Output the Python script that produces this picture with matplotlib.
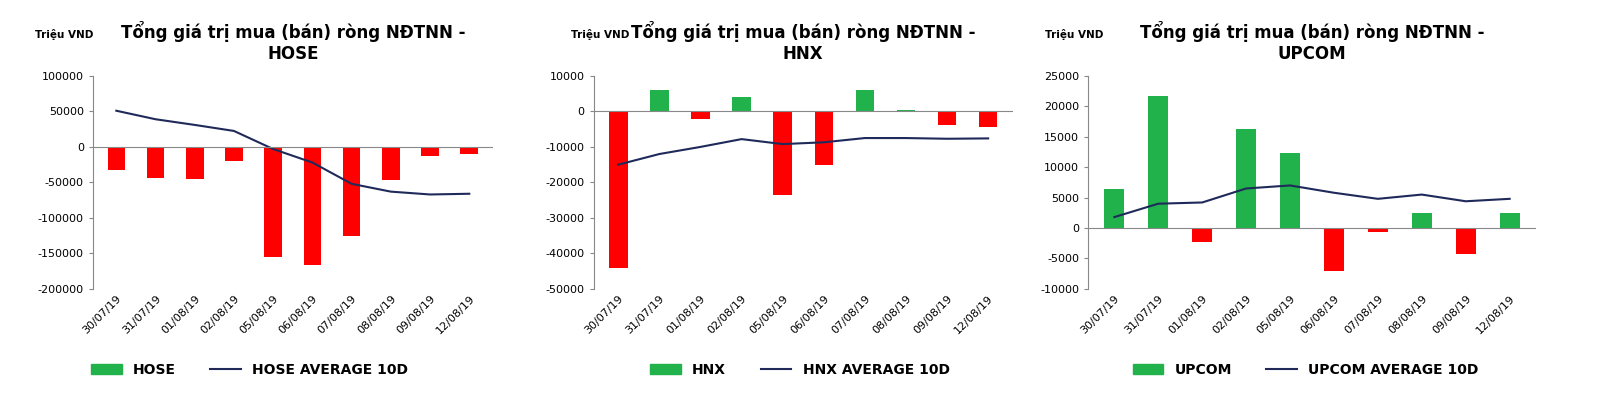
import matplotlib
matplotlib.use("Agg")
import matplotlib.pyplot as plt
import matplotlib.patches as mp
from matplotlib.lines import Line2D
from matplotlib.ticker import FixedLocator

dates = ["30/07/19","31/07/19","01/08/19","02/08/19","05/08/19","06/08/19","07/08/19","08/08/19","09/08/19","12/08/19"]
hose = [-32000,-44000,-45000,-20000,-155000,-166000,-125000,-46000,-13000,-10000]
hose_avg = [51000,39000,31000,22500,-3000,-22000,-52000,-63000,-67000,-66000]
hnx = [-44000,6000,-2000,4000,-23500,-15000,6000,300,-3800,-4500]
hnx_avg = [-15000,-12000,-10000,-7800,-9200,-8700,-7500,-7500,-7700,-7600]
upcom = [6400,21700,-2300,16300,12400,-7000,-600,2500,-4300,2400]
upcom_avg = [1800,4000,4200,6500,7000,5800,4800,5500,4400,4800]

panels = [
    ("HOSE", hose, hose_avg, (-200000,100000), list(range(-200000,100001,50000))),
    ("HNX", hnx, hnx_avg, (-50000,10000), list(range(-50000,10001,10000))),
    ("UPCOM", upcom, upcom_avg, (-10000,25000), list(range(-10000,25001,5000))),
]
GREEN, RED, NAVY = "#21B24B", "#FF0000", "#1F2A5A"

fig = plt.figure(figsize=(16,4.04), dpi=100)
boxes = [(0.058,0.25), (0.371,0.262), (0.68,0.28)]
tx = [0.022, 0.357, 0.653]
legx = [0.156, 0.5, 0.816]
for i,(name, vals, avg, ylim, ticks) in enumerate(panels):
    l, w = boxes[i]
    ax = fig.add_axes([l, 0.285, w, 0.527])
    x = range(len(dates))
    cols = [GREEN if v>=0 else RED for v in vals]
    ax.bar(x, vals, width=0.45, color=cols)
    ax.plot(x, avg, color=NAVY, lw=1.5)
    ax.set_ylim(*ylim)
    ax.set_xlim(-0.6, len(dates)-0.4)
    ax.yaxis.set_major_locator(FixedLocator(ticks))
    ax.set_yticklabels([str(t) for t in ticks], fontsize=8)
    ax.set_xticks(list(x))
    ax.set_xticklabels(dates, rotation=45, ha="right", rotation_mode="anchor", fontsize=8)
    ax.axhline(0, color="#888888", lw=0.8)
    for s in ["top","right","bottom"]:
        ax.spines[s].set_visible(False)
    ax.spines["left"].set_color("#888888")
    ax.tick_params(axis="x", length=0)
    ax.tick_params(axis="y", length=3, color="#888888")
    ax.set_title("Tổng giá trị mua (bán) ròng NĐTNN -\n"+name, fontsize=12, fontweight="bold", pad=12)
    fig.text(tx[i], 0.905, "Triệu VND", fontsize=7.5, fontweight="bold")
    h = [mp.Patch(color=GREEN, label=name), Line2D([0],[0], color=NAVY, lw=1.5, label=name+" AVERAGE 10D")]
    fig.legend(handles=h, loc="center", bbox_to_anchor=(legx[i], 0.085), ncol=2, frameon=False,
               prop={"weight":"bold","size":10}, handlelength=2.2, columnspacing=2.5)
fig.savefig("out.png", dpi=100, facecolor="white")
